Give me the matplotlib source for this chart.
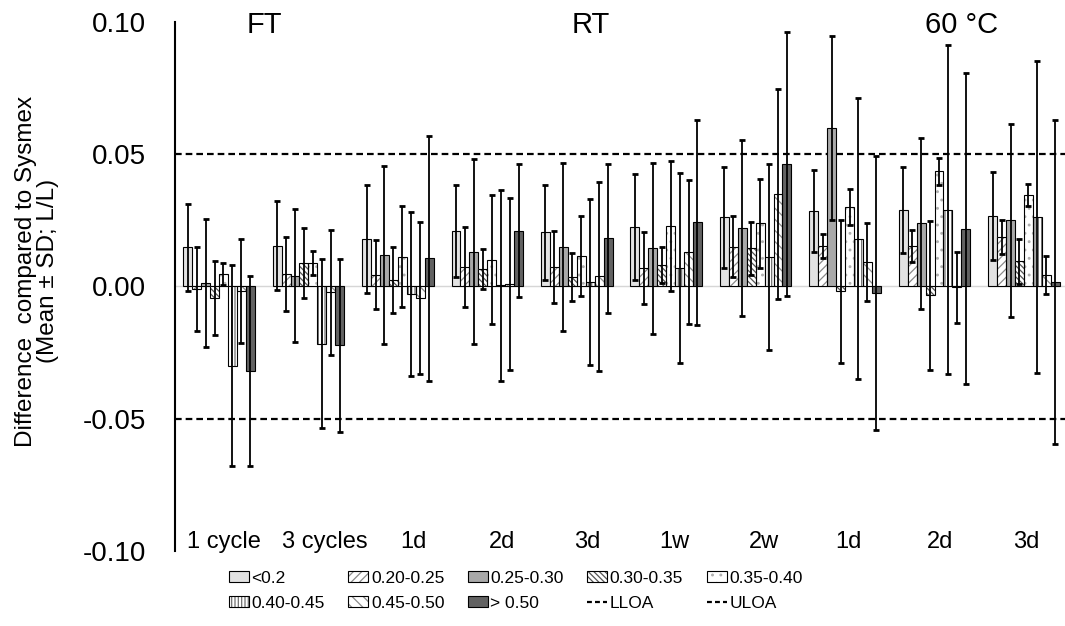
""" grouped bar chart: difference compared to Sysmex per concentration band
 for freeze/thaw, room temperature and 60 C storage """

import matplotlib
matplotlib.use("Agg")
import matplotlib.pyplot as plt
import numpy as np
from matplotlib.lines import Line2D
from matplotlib.patches import Patch

plt.rcParams['font.family'] = ['Liberation Sans', 'DejaVu Sans']
plt.rcParams['hatch.linewidth'] = 0.9

###############################################################################
# data
###############################################################################
groups = ["1 cycle", "3 cycles", "1d", "2d", "3d", "1w", "2w", "1d", "2d", "3d"]
sections = ["FT", "RT", "60 °C"]
series_names = ["<0.2", "0.20-0.25", "0.25-0.30", "0.30-0.35", "0.35-0.40",
                "0.40-0.45", "0.45-0.50", "> 0.50"]

mean_lt020 = [0.0148, 0.0155, 0.0178, 0.0211, 0.0205, 0.0225, 0.0262, 0.0286, 0.0290, 0.0268]
mean_020_025 = [-0.0010, 0.0048, 0.0045, 0.0074, 0.0074, 0.0070, 0.0150, 0.0154, 0.0153, 0.0186]
mean_025_030 = [0.0013, 0.0041, 0.0118, 0.0132, 0.0149, 0.0144, 0.0220, 0.0598, 0.0239, 0.0251]
mean_030_035 = [-0.0044, 0.0089, 0.0025, 0.0067, 0.0036, 0.0083, 0.0144, -0.0018, -0.0034, 0.0095]
mean_035_040 = [0.0046, 0.0089, 0.0113, 0.0102, 0.0116, 0.0228, 0.0239, 0.0300, 0.0436, 0.0347]
mean_040_045 = [-0.0299, -0.0216, -0.0030, 0.0004, 0.0017, 0.0071, 0.0112, 0.0181, 0.0290, 0.0262]
mean_045_050 = [-0.0018, -0.0022, -0.0043, 0.0010, 0.0038, 0.0129, 0.0350, 0.0092, -0.0003, 0.0042]
mean_gt050 = [-0.0320, -0.0223, 0.0106, 0.0211, 0.0182, 0.0243, 0.0463, -0.0024, 0.0219, 0.0016]

sd_lt020 = [0.0164, 0.0170, 0.0204, 0.0174, 0.0179, 0.0199, 0.0191, 0.0154, 0.0163, 0.0166]
sd_020_025 = [0.0158, 0.0139, 0.0131, 0.0150, 0.0136, 0.0135, 0.0115, 0.0045, 0.0059, 0.0065]
sd_025_030 = [0.0243, 0.0252, 0.0336, 0.0350, 0.0318, 0.0323, 0.0332, 0.0348, 0.0324, 0.0365]
sd_030_035 = [0.0139, 0.0131, 0.0125, 0.0075, 0.0089, 0.0068, 0.0100, 0.0270, 0.0282, 0.0086]
sd_035_040 = [0.0041, 0.0046, 0.0190, 0.0245, 0.0151, 0.0245, 0.0169, 0.0069, 0.0051, 0.0041]
sd_040_045 = [0.0379, 0.0319, 0.0310, 0.0361, 0.0314, 0.0360, 0.0351, 0.0530, 0.0622, 0.0590]
sd_045_050 = [0.0197, 0.0237, 0.0286, 0.0325, 0.0358, 0.0272, 0.0398, 0.0148, 0.0134, 0.0072]
sd_gt050 = [0.0358, 0.0326, 0.0462, 0.0251, 0.0281, 0.0388, 0.0500, 0.0517, 0.0588, 0.0613]

lloa = -0.05
uloa = 0.05

means = [mean_lt020, mean_020_025, mean_025_030, mean_030_035,
         mean_035_040, mean_040_045, mean_045_050, mean_gt050]
sds = [sd_lt020, sd_020_025, sd_025_030, sd_030_035,
       sd_035_040, sd_040_045, sd_045_050, sd_gt050]

###############################################################################
# styles
###############################################################################
# (facecolor, hatch, hatch colour)
styles = [("#e2e2e2", None, None),
          ("white", "////", "#8a8a8a"),
          ("#a9a9a9", None, None),
          ("white", "\\\\\\\\\\\\", "#555555"),
          ("white", "..", "#b0b0b0"),
          ("white", "|||||", "#707070"),
          ("white", "\\\\\\", "#8a8a8a"),
          ("#626262", None, None)]

# nudges of the category labels (data units), as placed in the original
label_nudge = [0.06, 0.18, 0.17, 0.17, 0.12, 0.09, 0.09, 0.04, 0.06, 0.03]
section_x = [0.51, 4.16, 8.30]

###############################################################################
# create the plot
###############################################################################
W, H = 1065, 626
fig = plt.figure(figsize=(W / 100, H / 100), dpi=100)
ax = fig.add_axes([175 / W, (H - 551) / H, (W - 175) / W, 529 / H])

x = np.arange(len(groups))
bar_w = 0.1
n = len(series_names)

handles = []
for i in range(n):
    face, hatch, hcol = styles[i]
    xs = x + (i - (n - 1) / 2) * bar_w
    if hatch:
        ax.bar(xs, means[i], bar_w, color=face, hatch=hatch,
               edgecolor=hcol, linewidth=0, zorder=2)
        ax.bar(xs, means[i], bar_w, fill=False, edgecolor="black",
               linewidth=0.8, zorder=2.1)
        h = (Patch(facecolor=face, hatch=hatch, edgecolor=hcol, linewidth=0),
             Patch(fill=False, edgecolor="black", linewidth=0.8))
    else:
        ax.bar(xs, means[i], bar_w, color=face, edgecolor="black",
               linewidth=0.8, zorder=2)
        h = Patch(facecolor=face, edgecolor="black", linewidth=0.8)
    ax.errorbar(xs, means[i], yerr=sds[i], fmt="none", ecolor="black",
                elinewidth=1.3, capsize=2.3, capthick=2, zorder=3)
    handles.append(h)

# zero line and limits of agreement
ax.axhline(0, color="#d6d6d6", linewidth=1, zorder=0.5)
dash = (0, (3, 1.8))
ax.axhline(lloa, color="black", linewidth=1.6, linestyle=dash, zorder=1)
ax.axhline(uloa, color="black", linewidth=1.6, linestyle=dash, zorder=1)
leg_dash = (0, (2.2, 1.4))
handles.append(Line2D([], [], color="black", linewidth=1.6, linestyle=leg_dash))
handles.append(Line2D([], [], color="black", linewidth=1.6, linestyle=leg_dash))
labels = series_names + ["LLOA", "ULOA"]

# customize axes
ax.set_xlim(-0.492, 9.459)
ax.set_ylim(-0.10, 0.10)
ax.set_yticks([-0.10, -0.05, 0.00, 0.05, 0.10])
ax.set_yticklabels(["-0.10", "-0.05", "0.00", "0.05", "0.10"], fontsize=20)
ax.tick_params(axis="y", length=0, pad=21)
ax.set_xticks([])
for s in ["top", "right", "bottom"]:
    ax.spines[s].set_visible(False)
ax.spines["left"].set_linewidth(1.5)

# category and section labels
for i, g in enumerate(groups):
    ax.text(x[i] + label_nudge[i], -0.099, g, ha="center", va="baseline",
            fontsize=17)
for sx, s in zip(section_x, sections):
    ax.text(sx, 0.0958, s, ha="center", va="baseline", fontsize=21)

fig.text(37 / W, 1 - 271 / H,
         "Difference  compared to Sysmex\n(Mean ± SD; L/L)",
         rotation=90, ha="center", va="center", multialignment="center",
         fontsize=17.5, linespacing=1.05)

# legend: 2 rows x 5 columns, filled row by row
order = [0, 5, 1, 6, 2, 7, 3, 8, 4, 9]
fig.legend([handles[k] for k in order], [labels[k] for k in order],
           ncol=5, loc="upper left", bbox_to_anchor=(229 / W, 1 - 571 / H),
           frameon=False, fontsize=12.5, handlelength=1.15, handleheight=0.6,
           handletextpad=0.15, columnspacing=1.35, labelspacing=0.55,
           borderpad=0, borderaxespad=0)

fig.savefig("out.png", dpi=100)
